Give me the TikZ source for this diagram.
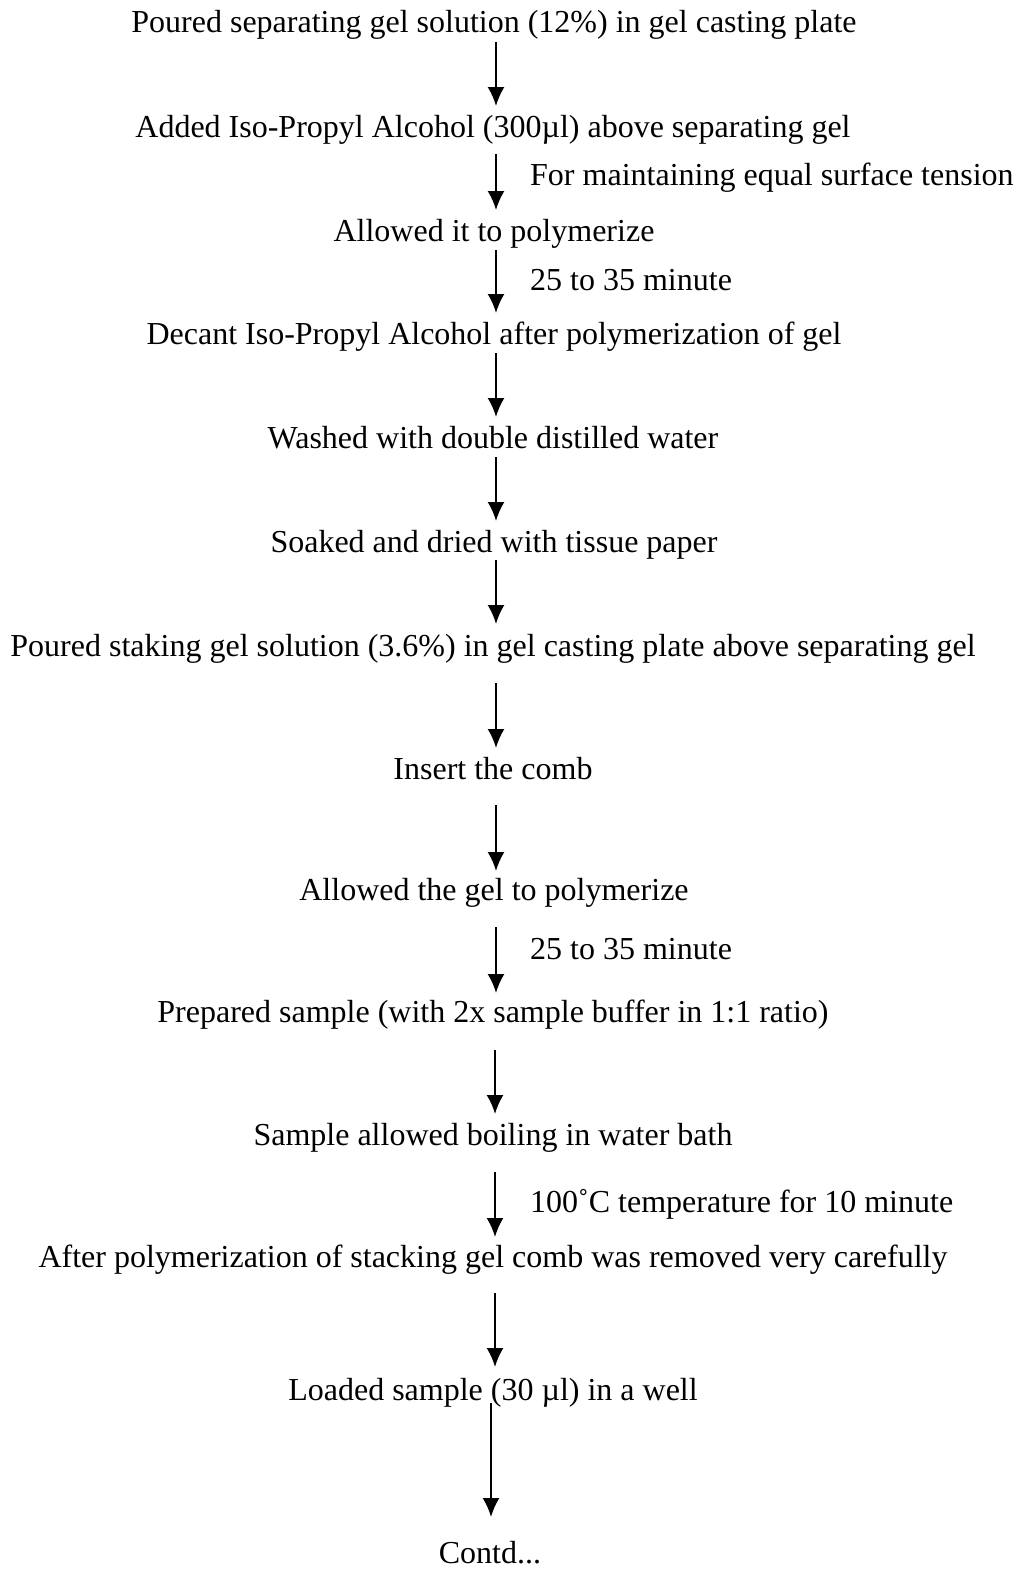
\documentclass[tikz,border=0pt]{standalone}
\usepackage{fontspec}
\setmainfont{Liberation Serif}
\usetikzlibrary{arrows.meta}
\begin{document}
\begin{tikzpicture}[x=1pt,y=-1pt,
  stepbox/.style={inner sep=0pt,font=\fontsize{32}{36}\selectfont,text height=0.68em,text depth=0.2em,anchor=center,yshift=-8pt},
  note/.style={stepbox,anchor=west},
  arr/.style={line width=2pt,-{Latex[length=19pt,width=17pt]}}]
\useasboundingbox (0,0) rectangle (1022,1569);
\node[stepbox] (t1) at (494,22) {Poured separating gel solution (12\%) in gel casting plate};
\node[stepbox] (t2) at (493,127) {Added Iso-Propyl Alcohol (300µl) above separating gel};
\node[note] (l2) at (530,175) {For maintaining equal surface tension};
\node[stepbox] (t3) at (494,231) {Allowed it to polymerize};
\node[note] (l3) at (530,280) {25 to 35 minute};
\node[stepbox] (t4) at (494,334) {Decant Iso-Propyl Alcohol after polymerization of gel};
\node[stepbox] (t5) at (493,438) {Washed with double distilled water};
\node[stepbox] (t6) at (494,542) {Soaked and dried with tissue paper};
\node[stepbox] (t7) at (493,646) {Poured staking gel solution (3.6\%) in gel casting plate above separating gel};
\node[stepbox] (t8) at (493,769) {Insert the comb};
\node[stepbox] (t9) at (494,890) {Allowed the gel to polymerize};
\node[note] (l9) at (530,949) {25 to 35 minute};
\node[stepbox] (t10) at (493,1012) {Prepared sample (with 2x sample buffer in 1:1 ratio)};
\node[stepbox] (t11) at (493,1135) {Sample allowed boiling in water bath};
\node[note] (l11) at (530,1202) {100˚C temperature for 10 minute};
\node[stepbox] (t12) at (493,1257) {After polymerization of stacking gel comb was removed very carefully};
\node[stepbox] (t13) at (493,1390) {Loaded sample (30 µl) in a well};
\node[stepbox] (t14) at (490,1553) {Contd...};
\coordinate (a1s) at (496,42);   \coordinate (a1e) at (496,106);
\coordinate (a2s) at (496,154);  \coordinate (a2e) at (496,210);
\coordinate (a3s) at (496,250);  \coordinate (a3e) at (496,313);
\coordinate (a4s) at (496,353);  \coordinate (a4e) at (496,417);
\coordinate (a5s) at (496,457);  \coordinate (a5e) at (496,521);
\coordinate (a6s) at (496,560);  \coordinate (a6e) at (496,624);
\coordinate (a7s) at (496,683);  \coordinate (a7e) at (496,748);
\coordinate (a8s) at (496,805);  \coordinate (a8e) at (496,871);
\coordinate (a9s) at (496,927);  \coordinate (a9e) at (496,993);
\coordinate (a10s) at (495,1050); \coordinate (a10e) at (495,1114);
\coordinate (a11s) at (495,1172); \coordinate (a11e) at (495,1237);
\coordinate (a12s) at (495,1293); \coordinate (a12e) at (495,1367);
\coordinate (a13s) at (491,1403); \coordinate (a13e) at (491,1517);
\foreach \i in {1,...,13} \draw[arr] (a\i s) -- (a\i e);
\end{tikzpicture}
\end{document}
